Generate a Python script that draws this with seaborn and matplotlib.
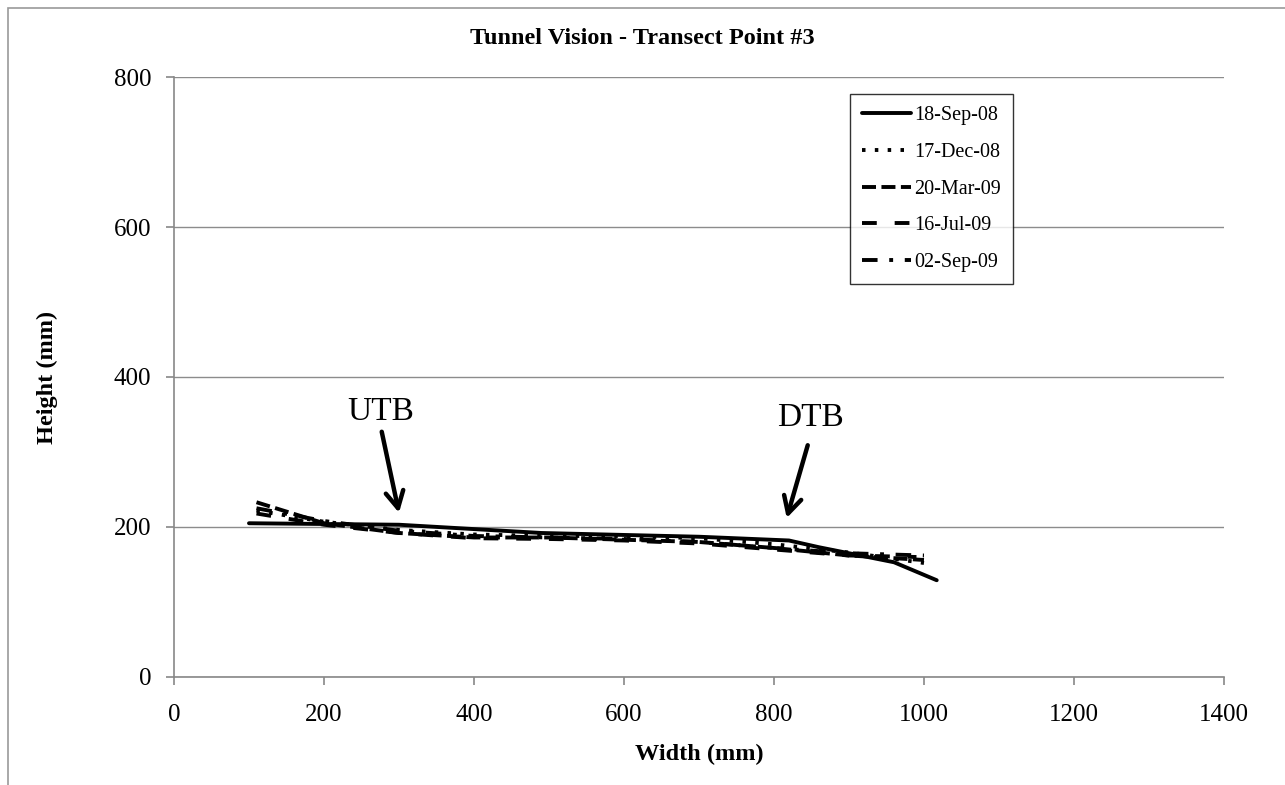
import matplotlib
matplotlib.use("Agg")
import matplotlib.pyplot as plt
import seaborn as sns
import pandas as pd
from matplotlib.patches import Rectangle

dates = ["18-Sep-08", "17-Dec-08", "20-Mar-09", "16-Jul-09", "02-Sep-09"]
x_sep08 = [100, 300, 490, 700, 820, 860, 960, 1017]
y_sep08 = [205, 203, 192, 187, 182, 173, 153, 129]
x_dec08 = [110, 200, 300, 400, 500, 600, 700, 800, 900, 1000]
y_dec08 = [222, 207, 196, 190, 188, 188, 185, 177, 166, 152]
x_mar09 = [110, 200, 300, 400, 500, 600, 700, 800, 900, 1000]
y_mar09 = [233, 205, 192, 186, 186, 183, 180, 172, 162, 156]
x_jul09 = [110, 200, 300, 400, 500, 600, 700, 800, 900, 990]
y_jul09 = [218, 203, 192, 185, 184, 182, 178, 170, 162, 160]
x_sep09 = [110, 200, 300, 400, 500, 600, 700, 800, 900, 1000]
y_sep09 = [225, 208, 195, 188, 186, 184, 180, 172, 165, 162]

rows = []
for d, xs, ys in zip(dates,
                     [x_sep08, x_dec08, x_mar09, x_jul09, x_sep09],
                     [y_sep08, y_dec08, y_mar09, y_jul09, y_sep09]):
    for xv, yv in zip(xs, ys):
        rows.append({"Date": d, "Width": xv, "Height": yv})
df = pd.DataFrame(rows)

sns.set_theme(style="white")
plt.rcParams["font.family"] = ["Liberation Serif", "DejaVu Serif"]
plt.rcParams["text.color"] = "black"
plt.rcParams["axes.labelcolor"] = "black"
plt.rcParams["xtick.color"] = "black"
plt.rcParams["ytick.color"] = "black"

fig = plt.figure(figsize=(12.85, 7.85), dpi=100)
ax = fig.add_axes([0.1354, 0.1376, 0.8171, 0.7643])

dash_list = ["", (0.9, 2.4), (3.6, 1.4), (3.8, 4.6), (4, 3, 1, 3)]
sns.lineplot(data=df, x="Width", y="Height", hue="Date", style="Date",
             hue_order=dates, style_order=dates,
             palette=["black"] * 5, dashes=dash_list, linewidth=2.8,
             sort=False, estimator=None, ax=ax, legend=True)

ax.set_xlim(0, 1400)
ax.set_ylim(0, 800)
ax.set_xticks(range(0, 1401, 200))
ax.set_yticks(range(0, 801, 200))
ax.tick_params(axis="both", labelsize=18, length=5.5, width=1.2, direction="out",
               color="#888888", bottom=True, left=True, labelcolor="black")
ax.tick_params(axis="x", pad=14)
ax.tick_params(axis="y", pad=11)
ax.yaxis.grid(True, color="#8c8c8c", linewidth=1)
ax.set_axisbelow(True)
for s in ["top", "right"]:
    ax.spines[s].set_visible(False)
for s in ["left", "bottom"]:
    ax.spines[s].set_color("#888888")
    ax.spines[s].set_linewidth(1.2)

ax.set_xlabel("Width (mm)", fontsize=17.5, fontweight="bold", labelpad=13)
ax.set_ylabel("Height (mm)", fontsize=17.5, fontweight="bold", labelpad=40)
fig.text(0.5, 1 - 39 / 785, "Tunnel Vision - Transect Point #3", ha="center",
         va="center", fontsize=17.5, fontweight="bold")

handles, labels = ax.get_legend_handles_labels()
leg = ax.legend(handles=handles[-5:], labels=labels[-5:], loc="upper left",
                bbox_to_anchor=(0.644, 0.972), fontsize=14.5, frameon=True,
                fancybox=False, edgecolor="black", handlelength=2.4,
                handletextpad=0.2, labelspacing=0.88, borderpad=0.6,
                borderaxespad=0)
leg.get_frame().set_linewidth(1.0)

ax.text(275, 353, "UTB", fontsize=24, ha="center", va="center")
ax.text(848, 345, "DTB", fontsize=24, ha="center", va="center")
arrow_kw = dict(arrowstyle="->,head_length=0.6,head_width=0.32", color="black",
                lw=3.2, shrinkA=0, shrinkB=0, mutation_scale=20)
ax.annotate("", xy=(300, 219), xytext=(277, 327), arrowprops=arrow_kw)
ax.annotate("", xy=(817, 212), xytext=(845, 309), arrowprops=arrow_kw)

fig.patches.append(Rectangle((8 / 1285, -0.01), 1.1, 1 - 8 / 785 + 0.01,
                             transform=fig.transFigure, fill=False,
                             edgecolor="#999999", linewidth=1.2))

fig.savefig("out.png", dpi=100)
